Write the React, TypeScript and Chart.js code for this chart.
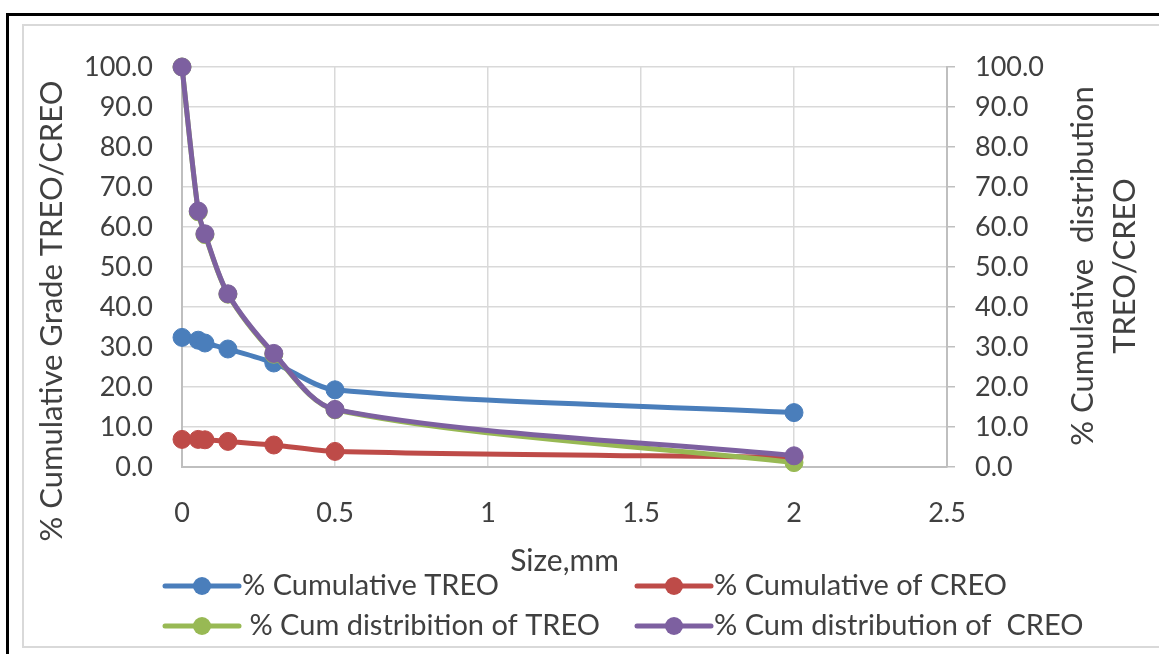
import React, { useEffect, useRef } from "react";
import { Chart, registerables } from "chart.js";

Chart.register(...registerables);

const sizes = [0, 0.053, 0.075, 0.15, 0.3, 0.5, 2];
const cumTREO = [32.4, 31.7, 31.0, 29.5, 26.0, 19.3, 13.6];
const cumCREO = [6.9, 6.9, 6.8, 6.4, 5.5, 3.9, 2.4];
const distTREO = [100, 63.8, 58.1, 43.2, 28.2, 14.3, 1.1];
const distCREO = [100, 64.0, 58.3, 43.3, 28.4, 14.4, 2.8];

const seriesLabels = [
  "% Cumulative TREO",
  "% Cumulative of CREO",
  " % Cum distribition of TREO",
  "% Cum distribution of  CREO",
];
const seriesColors = ["#4A7EBB", "#BE4B48", "#98B954", "#7D60A0"];
const yTitleLeft = "% Cumulative Grade TREO/CREO";
const yTitleRight = ["% Cumulative  distribution", "TREO/CREO"];
const xTitle = "Size,mm";

const FONT = "Lato, 'Noto Sans', sans-serif";
const TEXT = "#404040";

const titlesAndLegend = {
  id: "titlesAndLegend",
  afterDraw(chart: any) {
    const ctx = chart.ctx;
    const area = chart.chartArea;
    ctx.save();
    ctx.fillStyle = TEXT;
    ctx.font = `31px ${FONT}`;
    ctx.textAlign = "center";
    ctx.textBaseline = "middle";
    // left title
    ctx.save();
    ctx.translate(52, 311);
    ctx.rotate(-Math.PI / 2);
    ctx.fillText(yTitleLeft, 0, 0);
    ctx.restore();
    // right title
    ctx.save();
    ctx.translate(area.right + 136, 266);
    ctx.rotate(-Math.PI / 2);
    ctx.fillText(yTitleRight[0], 0, 0);
    ctx.fillText(yTitleRight[1], 0, 42);
    ctx.restore();
    // x title
    ctx.font = `30px ${FONT}`;
    ctx.fillText(xTitle, (area.left + area.right) / 2, 561);
    // legend
    ctx.font = `29px ${FONT}`;
    const cols = [165, 637];
    const rows = [586, 626];
    chart.data.datasets.forEach((ds: any, i: number) => {
      const x = cols[i % 2];
      const y = rows[Math.floor(i / 2)];
      ctx.strokeStyle = ds.borderColor;
      ctx.lineWidth = 5;
      ctx.lineCap = "round";
      ctx.beginPath();
      ctx.moveTo(x, y);
      ctx.lineTo(x + 74, y);
      ctx.stroke();
      ctx.fillStyle = ds.borderColor;
      ctx.beginPath();
      ctx.arc(x + 37, y, 9, 0, Math.PI * 2);
      ctx.fill();
      ctx.fillStyle = TEXT;
      ctx.textAlign = "left";
      ctx.fillText(ds.label, x + 77, y);
    });
    ctx.restore();
  },
};

export default function App() {
  const ref = useRef<HTMLCanvasElement>(null);
  useEffect(() => {
    if (!ref.current) return;
    const mk = (vals: number[], i: number) => ({
      label: seriesLabels[i],
      data: sizes.map((s, k) => ({ x: s, y: vals[k] })),
      borderColor: seriesColors[i],
      backgroundColor: seriesColors[i],
      pointBackgroundColor: seriesColors[i],
      pointBorderColor: seriesColors[i],
      borderWidth: 5,
      pointRadius: 9,
      pointBorderWidth: 1,
      tension: 0.3,
      clip: false,
      order: 4 - i,
      yAxisID: "y",
    });
    const chart = new Chart(ref.current, {
      type: "line",
      data: {
        datasets: [
          mk(cumTREO, 0),
          mk(cumCREO, 1),
          mk(distTREO, 2),
          mk(distCREO, 3),
        ],
      },
      options: {
        animation: false,
        responsive: false,
        layout: { padding: { top: 67, left: 0, right: 0, bottom: 0 } },
        plugins: { legend: { display: false }, tooltip: { enabled: false } },
        font: { family: FONT },
        scales: {
          x: {
            type: "linear",
            min: 0,
            max: 2.5,
            ticks: { stepSize: 0.5, color: TEXT, font: { family: FONT, size: 27 }, padding: 30, callback: (v: any) => String(Number(v)) },
            grid: { color: "#d9d9d9", lineWidth: 1.5, drawTicks: false },
            border: { color: "#bfbfbf", width: 2 },
            afterFit: (s: any) => { s.height = 187; },
          },
          y: {
            position: "left",
            min: 0,
            max: 100,
            ticks: { stepSize: 10, color: TEXT, font: { family: FONT, size: 27 }, padding: 29, callback: (v: any) => Number(v).toFixed(1) },
            grid: { color: "#d9d9d9", lineWidth: 1.5, drawTicks: false },
            border: { color: "#bfbfbf", width: 2 },
            afterFit: (s: any) => { s.width = 182; },
          },
          y2: {
            position: "right",
            min: 0,
            max: 100,
            ticks: { stepSize: 10, color: TEXT, font: { family: FONT, size: 27 }, padding: 20, callback: (v: any) => Number(v).toFixed(1) },
            grid: { drawOnChartArea: false, color: "#bfbfbf", tickLength: 8, lineWidth: 1.5 },
            border: { color: "#bfbfbf", width: 2 },
            afterFit: (s: any) => { s.width = 212; },
          },
        },
      } as any,
      plugins: [titlesAndLegend],
    });
    return () => chart.destroy();
  }, []);
  return (
    <div style={{ position: "absolute", left: 0, top: 0, width: 1159, height: 654, overflow: "hidden", background: "#fff" }}>
      <div style={{ position: "absolute", left: 6, top: 13, width: 1300, height: 800, border: "3px solid #000" }} />
      <div style={{ position: "absolute", left: 22, top: 24, width: 1300, height: 620, border: "2px solid #d9d9d9" }} />
      <canvas ref={ref} width={1159} height={654} style={{ position: "absolute", left: 0, top: 0, width: 1159, height: 654 }} />
    </div>
  );
}
